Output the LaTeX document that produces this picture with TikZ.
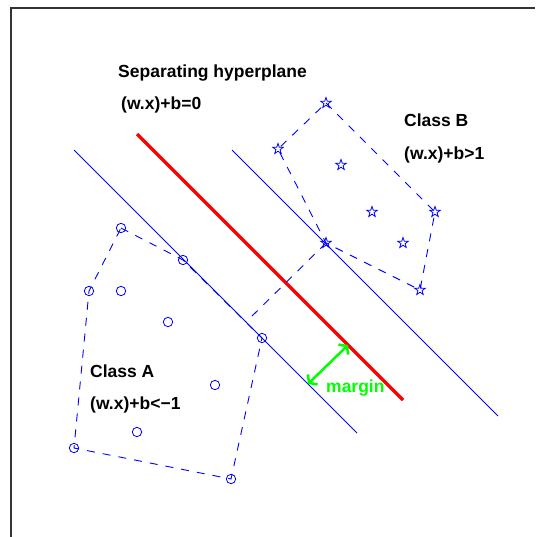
\documentclass[tikz,border=0pt]{standalone}
\usepackage{fontspec}
\setmainfont{Liberation Sans}
\usetikzlibrary{shapes.geometric,arrows.meta}
\definecolor{plotblue}{rgb}{0,0,1}
\definecolor{plotgreen}{rgb}{0,1,0}
\tikzset{
	hull/.style={plotblue,line width=0.9pt,dash pattern=on 8pt off 8pt},
	bound/.style={plotblue,line width=0.9pt},
	labeltext/.style={anchor=base west,inner sep=0pt,font=\fontsize{17.5}{20}\selectfont\bfseries},
	starmark/.style={star,star points=5,star point ratio=2.5,draw=plotblue,line width=0.8pt,minimum size=11pt,inner sep=0pt}
}
\begin{document}
\begin{tikzpicture}[x=1pt,y=-1pt]
				\useasboundingbox (0,0) rectangle (535,537);
				\draw[line width=1.2pt,black!80] (535,8)--(11,8)--(11,537);
				% class A points
				\coordinate (A1) at (121,228);
				\coordinate (A2) at (183,260);
				\coordinate (A3) at (89,291);
				\coordinate (A4) at (121,291);
				\coordinate (A5) at (168,322);
				\coordinate (A6) at (262,338);
				\coordinate (A7) at (215,385);
				\coordinate (A8) at (137,432);
				\coordinate (A9) at (74,448);
				\coordinate (A10) at (231,479);
				% class B points
				\coordinate (B1) at (326,103);
				\coordinate (B2) at (278,149);
				\coordinate (B3) at (341,165);
				\coordinate (B4) at (372,212);
				\coordinate (B5) at (435,212);
				\coordinate (B6) at (403,243);
				\coordinate (B7) at (326,243);
				\coordinate (B8) at (420,290);
				% lines
				\coordinate (L1) at (74,150);
				\coordinate (L2) at (357,433);
				\coordinate (H1) at (137,134);
				\coordinate (H2) at (403,400);
				\coordinate (U1) at (232,150);
				\coordinate (U2) at (498,416);
				\coordinate (F) at (246,322);
				\coordinate (M1) at (348,345);
				\coordinate (M2) at (308,384);
				\draw[bound] (L1)--(L2);
				\draw[bound] (U1)--(U2);
				\draw[red,line width=3.5pt] (H1)--(H2);
				\draw[hull] (A1)--(A2)--(A6)--(A10)--(A9)--(A3)--cycle;
				\draw[hull] (B1)--(B5)--(B8)--(B7)--(B2)--cycle;
				\draw[hull] (B7)--(F);
				\foreach \i in {1,...,10} \draw[plotblue,line width=0.8pt] (A\i) circle (4.7pt);
				\foreach \i in {1,...,8} \node[starmark] (s\i) at (B\i) {};
				\draw[plotgreen,line width=2.5pt,{Straight Barb[length=5pt,width=14pt]}-{Straight Barb[length=5pt,width=14pt]}] (M2)--(M1);
				\node[labeltext] (sep) at (118,78) {Separating hyperplane};
				\node[labeltext] (sepeq) at (121,110) {(w.x)+b=0};
				\node[labeltext] (clB) at (404,127) {Class B};
				\node[labeltext] (clBeq) at (404,160) {(w.x)+b>1};
				\node[labeltext] (clA) at (90,377) {Class A};
				\node[labeltext] (clAeq) at (90,409) {(w.x)+b<−1};
				\node[labeltext,plotgreen] (mg) at (326,392) {margin};
			\end{tikzpicture}
\end{document}
